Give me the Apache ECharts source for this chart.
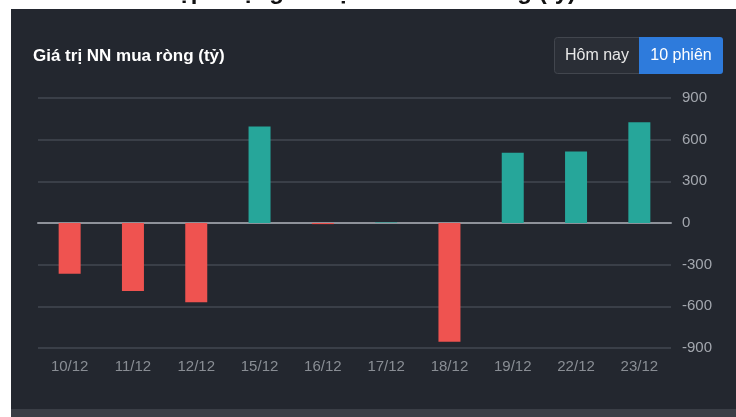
<!DOCTYPE html>
<html>
<head>
<meta charset="utf-8">
<script src="https://cdn.jsdelivr.net/npm/echarts@6/dist/echarts.min.js"></script>
<style>
  html, body { margin: 0; padding: 0; background: #ffffff; }
  #chartNnmr { width: 736px; height: 417px; }
</style>
</head>
<body>
<div id="chartNnmr"></div>
<script>
// giá trị NN mua ròng 10 phiên
var days = ["10/12", "11/12", "12/12", "15/12", "16/12", "17/12", "18/12", "19/12", "22/12", "23/12"];
var netValues = [-365, -490, -570, 695, -8, 4, -855, 505, 515, 725];
var yTicks = [-900, 900, 300]; // min, max, interval

var upColor = "#26a69a";
var downColor = "#ef5350";

var myChart = echarts.init(document.getElementById("chartNnmr"));

var option = {
  backgroundColor: "#ffffff",
  animation: false,
  graphic: [
    // nền tối
    { type: "rect", z: -10, shape: { x: 11, y: 9, width: 725, height: 401 }, style: { fill: "#23272f" } },
    { type: "rect", z: -9, shape: { x: 11, y: 409, width: 725, height: 8 }, style: { fill: "#3a3e46" } },
    // tiêu đề bị cắt phía trên
    {
      type: "text", left: "center", top: -20, z: 5,
      style: { text: "Cập nhật giao dịch NN mua ròng (tỷ)", fill: "#111111", font: "bold 24px 'Liberation Sans', Arial, sans-serif" }
    },
    {
      type: "text", left: 33, top: 48,
      style: { text: "Giá trị NN mua ròng (tỷ)", fill: "#ffffff", font: "bold 17px 'Liberation Sans', Arial, sans-serif" }
    },
    // nút chọn
    { type: "rect", shape: { x: 554.5, y: 37.5, width: 85, height: 36, r: [3, 0, 0, 3] }, style: { fill: "#2a2e36", stroke: "#42464e", lineWidth: 1 } },
    { type: "rect", shape: { x: 639, y: 37, width: 84, height: 37, r: [0, 3, 3, 0] }, style: { fill: "#2e7bdc" } },
    {
      type: "text", x: 597, y: 56,
      style: { text: "Hôm nay", fill: "#e8e8e8", font: "16px 'Liberation Sans', Arial, sans-serif", align: "center", verticalAlign: "middle" }
    },
    {
      type: "text", x: 681, y: 56,
      style: { text: "10 phiên", fill: "#ffffff", font: "16px 'Liberation Sans', Arial, sans-serif", align: "center", verticalAlign: "middle" }
    }
  ],
  grid: { left: 38, right: 65, top: 98, bottom: 69 },
  xAxis: {
    type: "category",
    data: days,
    axisLine: { show: true, onZero: true, lineStyle: { color: "#8e929a", width: 2 } },
    axisTick: { show: false },
    axisLabel: { show: false }
  },
  yAxis: {
    type: "value",
    position: "right",
    min: yTicks[0],
    max: yTicks[1],
    interval: yTicks[2],
    axisLine: { show: false },
    axisTick: { show: false },
    axisLabel: { color: "#a3a7ae", fontSize: 15, margin: 11, fontFamily: "'Liberation Sans', Arial, sans-serif" },
    splitLine: { lineStyle: { color: "#3a3f48", width: 2 } }
  },
  series: [
    {
      type: "bar",
      data: netValues,
      barWidth: 22,
      itemStyle: {
        color: function (p) { return p.value >= 0 ? upColor : downColor; }
      },
      z: 3
    },
    {
      // nhãn ngày ở dưới
      type: "scatter",
      data: days.map(function (d) { return [d, yTicks[0]]; }),
      symbolSize: 0,
      silent: true,
      label: {
        show: true,
        position: "bottom",
        distance: 11,
        formatter: function (p) { return p.value[0]; },
        color: "#a3a7ae",
        fontSize: 15,
        fontFamily: "'Liberation Sans', Arial, sans-serif"
      }
    }
  ]
};

myChart.setOption(option);
</script>
</body>
</html>
